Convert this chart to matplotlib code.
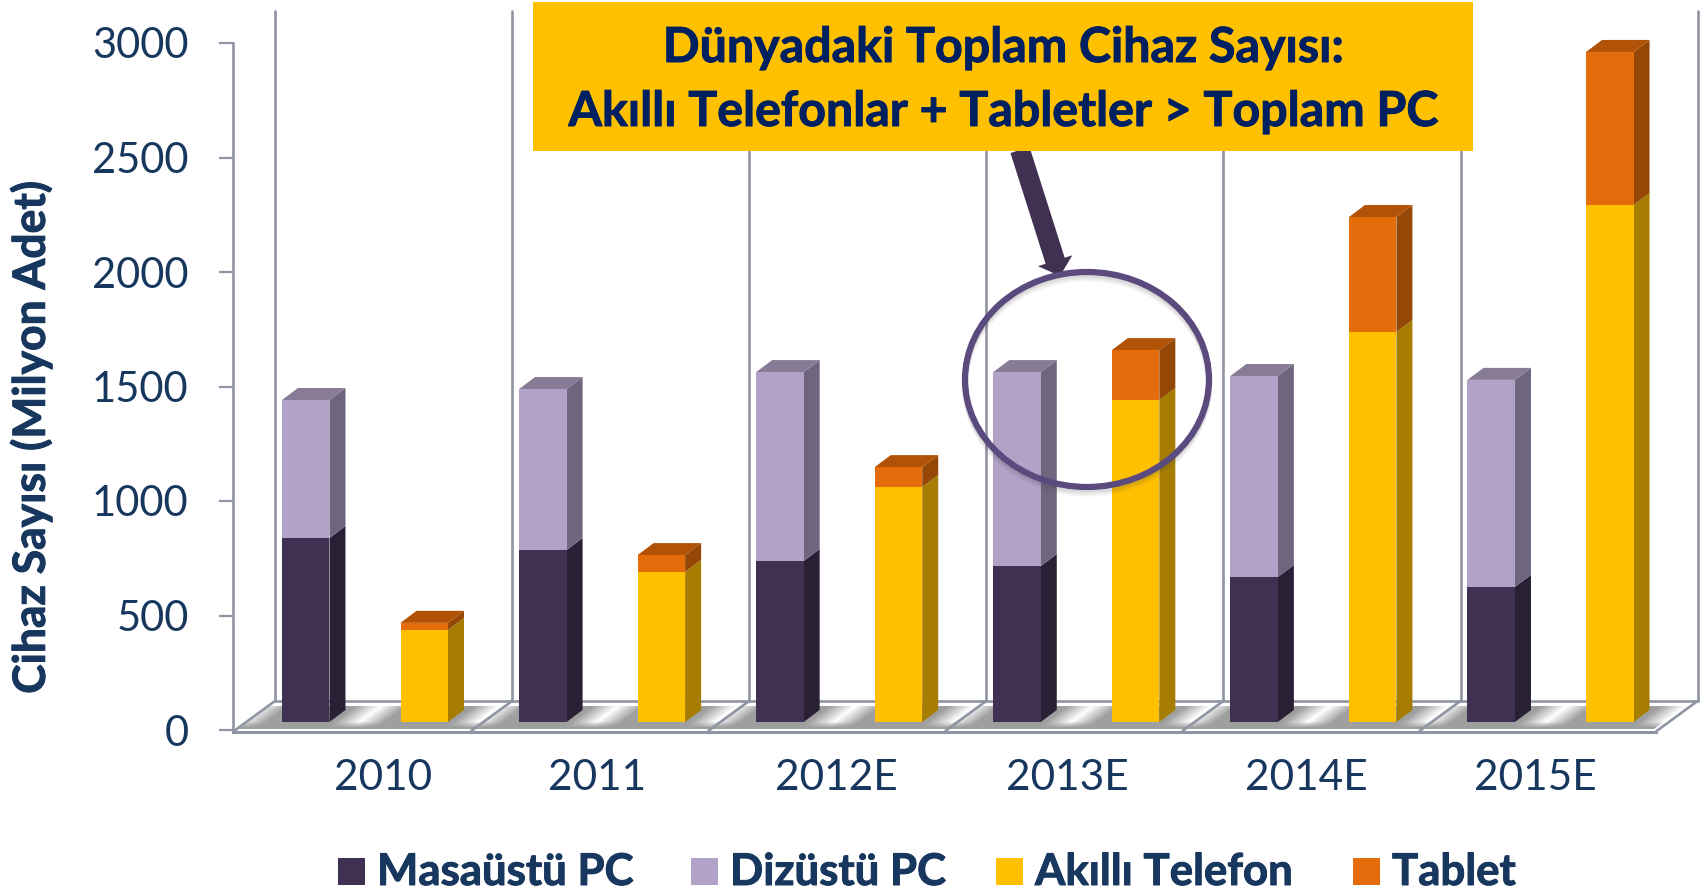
import matplotlib
matplotlib.use('Agg')
import matplotlib.pyplot as plt
import matplotlib.patheffects as pe
import numpy as np
from matplotlib.patches import Polygon, Rectangle, Ellipse, FancyArrow

plt.rcParams['font.family'] = ['Lato', 'DejaVu Sans']

years = ['2010', '2011', '2012E', '2013E', '2014E', '2015E']
masaustu = [803, 751, 703, 681, 633, 590]
dizustu = [603, 703, 825, 847, 878, 904]
telefon = [402, 655, 1026, 1406, 1703, 2258]
tablet = [31, 74, 87, 218, 502, 668]
legend_names = ['Masaüstü PC', 'Dizüstü PC', 'Akıllı Telefon', 'Tablet']

TEXT = '#17375E'
GRID = '#8F95A3'
DARK = ('#403152', '#2A2035', '#2A2035')
LILAC = ('#B2A2C7', '#6F657F', '#877B96')
YELLOW = ('#FFC000', '#A67D00', '#A67D00')
ORANGE = ('#E46C0A', '#954705', '#B25206')

W, H = 1707, 894
X0, UNIT = 365.0, 237.1   # pixel of category 0, pixels per category
Y0, PX = 730.0, 0.229     # pixel of value 0, pixels per value


def dx(p):
    return p / UNIT


def dy(p):
    return p / PX


def to_x(p):
    return (p - X0) / UNIT


def to_y(p):
    return (Y0 - p) / PX


def heavy(col, w=0.7):
    return [pe.withStroke(linewidth=w, foreground=col)]


fig = plt.figure(figsize=(W / 100, H / 100), dpi=100, facecolor='white')
ax = fig.add_axes([233 / W, 1 - 730 / H, (1656 - 233) / W, 687 / H])
ax.patch.set_alpha(0)

# floor shading
xs = np.arange(230, 1700)
ys = np.arange(704, 731)
gx, gy = np.meshgrid(xs, ys)
u = (gx + 1.35 * (gy - 715) - 368) % 118.6
d = np.minimum(u, 118.6 - u)
shade = np.clip(1 - d / 25, 0, 1) * np.clip((727 - gy) / 6, 0, 1)
img = ax.imshow(160 + 95 * shade, cmap='gray', vmin=0, vmax=255, aspect='auto', zorder=1,
                extent=[to_x(230), to_x(1700), to_y(731), to_y(704)])
floor = Polygon([(to_x(238), to_y(729)), (to_x(1654), to_y(729)), (to_x(1686), to_y(706)), (to_x(270), to_y(706))],
                fc='none', ec='none')
ax.add_patch(floor)
floor.set_clip_on(False)
img.set_clip_path(floor)
img.set_clip_box(fig.bbox)

# walls and floor lines
line = dict(color=GRID, lw=1.9, clip_on=False, zorder=2, solid_capstyle='round')
for i in range(7):
    bx = 275 + 237.1 * i
    ax.plot([to_x(bx), to_x(bx)], [to_y(11), to_y(701)], **line)
    ax.plot([to_x(bx - 41), to_x(bx)], [to_y(731), to_y(701)], **line)
ax.plot([to_x(275), to_x(1698)], [to_y(701), to_y(701)], **line)
ax.plot([to_x(233), to_x(1656)], [to_y(731.5), to_y(731.5)], color=GRID, lw=2.2, clip_on=False, zorder=2)


def stack_bar(x, segments):
    bottom = dy(Y0 - 722)
    width = 47.5 / UNIT
    ox, oy = dx(16), dy(12)
    for value, colors in segments:
        ax.bar(x, value, width=width, bottom=bottom, color=colors[0], zorder=4)
        left, right = x - width / 2, x + width / 2
        ax.add_patch(Polygon([(right, bottom), (right + ox, bottom + oy), (right + ox, bottom + value + oy),
                              (right, bottom + value)], fc=colors[1], ec='none', zorder=3, clip_on=False))
        bottom += value
    ax.add_patch(Polygon([(left, bottom), (right, bottom), (right + ox, bottom + oy), (left + ox, bottom + oy)],
                         fc=segments[-1][1][2], ec='none', zorder=3, clip_on=False))


for i in range(len(years)):
    stack_bar(i - 0.25, [(masaustu[i], DARK), (dizustu[i], LILAC)])
    stack_bar(i + 0.25, [(telefon[i], YELLOW), (tablet[i], ORANGE)])

ax.set_xlim(to_x(233), to_x(1656))
ax.set_ylim(0, 3000)
for s in ['top', 'right', 'bottom']:
    ax.spines[s].set_visible(False)
ax.spines['left'].set_color(GRID)
ax.spines['left'].set_linewidth(1.9)
ax.set_yticks([0, 500, 1000, 1500, 2000, 2500, 3000])
ax.tick_params(axis='y', length=10, width=1.6, color=GRID, labelcolor=TEXT, labelsize=30, pad=22)

# the year labels were placed by hand in the original, not centred on the groups
label_px = [383, 597, 836, 1067, 1306, 1535]
ax.set_xticks([to_x(p) for p in label_px])
ax.set_xticklabels(years, fontsize=30.5, color=TEXT)
ax.tick_params(axis='x', length=0, pad=21)

# overlay in pixels for the call-out and the legend
ov = fig.add_axes([0, 0, 1, 1])
ov.set_xlim(0, W)
ov.set_ylim(H, 0)
ov.axis('off')
ov.patch.set_alpha(0)

ov.text(31, 437, 'Cihaz Sayısı (Milyon Adet)', rotation=90, ha='center', va='center', fontsize=32,
        fontweight='bold', color=TEXT, path_effects=heavy(TEXT))

ov.add_patch(Rectangle((533, 2), 940, 149, fc='#FFC000', ec='none', zorder=3))
ov.text(1004, 48, 'Dünyadaki Toplam Cihaz Sayısı:', ha='center', va='center', fontsize=34.8, fontweight='bold',
        color='#002060', zorder=4, path_effects=heavy('#002060'))
ov.text(1004, 112, 'Akıllı Telefonlar + Tabletler > Toplam PC', ha='center', va='center', fontsize=34.8,
        fontweight='bold', color='#002060', zorder=4, path_effects=heavy('#002060'))

ov.add_patch(FancyArrow(1020, 150, 40, 126, width=20, head_width=36, head_length=16, length_includes_head=True,
                        fc='#403152', ec='none', zorder=2))
for off, a in [(7, 0.05), (5, 0.07), (3, 0.09)]:
    ov.add_patch(Ellipse((1087, 379 + off), 244, 215, fc='none', ec='#444444', lw=4.5, alpha=a, zorder=2))
ov.add_patch(Ellipse((1087, 379.5), 244, 215, fc='none', ec='#5B4A7E', lw=4.5, zorder=3))

# legend
legend_colors = [DARK[0], LILAC[0], YELLOW[0], ORANGE[0]]
square_px = [338, 691, 996, 1353]
for name, col, sx in zip(legend_names, legend_colors, square_px):
    ov.add_patch(Rectangle((sx, 858), 27, 27, fc=col, ec='none'))
    ov.text(sx + 39, 885, name, ha='left', va='baseline', fontsize=31.5, fontweight='bold', color=TEXT,
            path_effects=heavy(TEXT))

fig.savefig('out.png', dpi=100)
